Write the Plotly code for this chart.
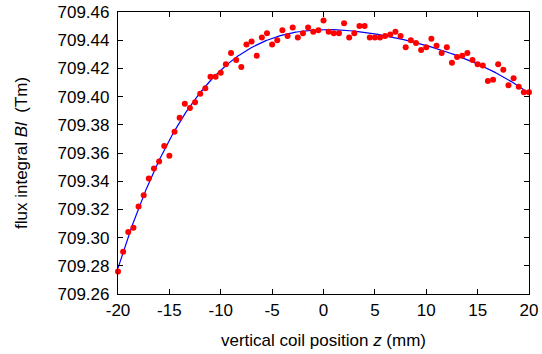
import numpy as np
import plotly.graph_objects as go

z_mm = [i * 0.5 for i in range(-40, 41)]
flux_Tm = [
    709.276, 709.290, 709.304, 709.307, 709.322, 709.330, 709.342, 709.349, 709.354, 709.365,
    709.358, 709.375, 709.385, 709.395, 709.392, 709.396, 709.402, 709.406, 709.414, 709.414,
    709.417,
    709.423, 709.431, 709.426, 709.421, 709.437, 709.439, 709.429, 709.442, 709.445, 709.437,
    709.440, 709.447, 709.443, 709.449, 709.442, 709.445, 709.449, 709.446, 709.447,
    709.454,
    709.446, 709.445, 709.445, 709.452, 709.442, 709.445, 709.450, 709.450, 709.442, 709.442,
    709.442, 709.443, 709.444, 709.446, 709.443, 709.435, 709.440, 709.438, 709.433, 709.435,
    709.441, 709.436, 709.431, 709.435, 709.424, 709.428, 709.429, 709.431, 709.426, 709.423,
    709.422, 709.411, 709.412, 709.423, 709.419, 709.408, 709.413, 709.407, 709.403, 709.403,
]
x_ticks = [-20, -15, -10, -5, 0, 5, 10, 15, 20]
y_ticks = [709.26, 709.28, 709.30, 709.32, 709.34, 709.36, 709.38, 709.40, 709.42, 709.44, 709.46]

coef = np.polyfit(z_mm, flux_Tm, 4)
zf = np.linspace(-20, 20, 401)
ff = np.polyval(coef, zf)

font = dict(family="Liberation Sans, Arial, sans-serif", size=17, color="black")

W, H = 542, 354
ML, MR, MT, MB = 118, 13, 12, 60
plot_w = W - ML - MR
plot_h = H - MT - MB

fig = go.Figure()
fig.add_trace(go.Scatter(x=zf, y=ff, mode="lines", line=dict(color="#0000ff", width=1.2),
                         showlegend=False, hoverinfo="skip"))
fig.add_trace(go.Scatter(x=z_mm, y=flux_Tm, mode="markers", marker=dict(color="#ff0000", size=6),
                         showlegend=False, cliponaxis=False))

axis_common = dict(showline=True, linecolor="black", linewidth=1.2, mirror="ticks",
                   ticks="inside", ticklen=5, tickcolor="black", tickwidth=1,
                   showgrid=False, zeroline=False, tickfont=font, automargin=False)

fig.update_layout(
    width=W, height=H,
    margin=dict(l=ML, r=MR, t=MT, b=MB),
    paper_bgcolor="white", plot_bgcolor="white",
    font=font,
    xaxis=dict(range=[-20, 20], tickvals=x_ticks, ticktext=[str(v) for v in x_ticks],
               ticklabelstandoff=0, **axis_common),
    yaxis=dict(range=[709.26, 709.46], tickvals=y_ticks, ticktext=[f"{v:.2f}" for v in y_ticks],
               ticklabelstandoff=4, **axis_common),
    annotations=[
        dict(text="vertical coil position <i>z</i> (mm)", x=0.5, xref="paper",
             y=(H - MB - 340) / plot_h, yref="paper", yanchor="middle",
             showarrow=False, font=font),
        dict(text="flux integral <i>Bl</i>\u00a0\u00a0(Tm)", textangle=-90,
             x=(21 - ML) / plot_w, xref="paper", xanchor="center",
             y=0.5, yref="paper", showarrow=False, font=font),
    ],
)
fig.write_html("out.html", config={"displayModeBar": False},
               post_script="document.body.style.margin='0';document.body.style.overflow='hidden';")
